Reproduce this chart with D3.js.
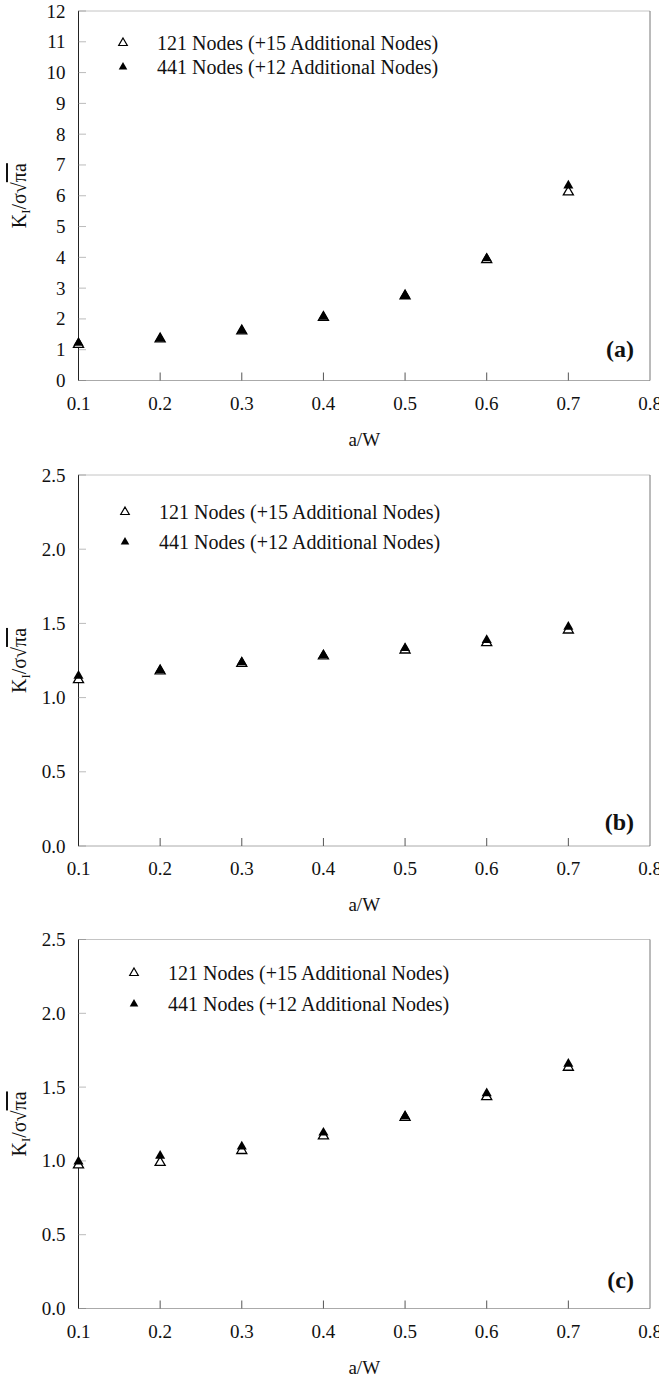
<!DOCTYPE html>
<html>
<head>
<meta charset="utf-8">
<script src="https://cdn.jsdelivr.net/npm/d3@7"></script>
<style>
  body { margin: 0; background: #fff; }
  svg { display: block; }
  svg text { font-family: "Liberation Serif", "DejaVu Serif", serif; fill: #111; }
</style>
</head>
<body>
<svg width="659" height="1376" font-family="Liberation Serif, DejaVu Serif, serif"></svg>
<script>
// crack ratio a/W, same for all three panels
var aW = [0.1, 0.2, 0.3, 0.4, 0.5, 0.6, 0.7];
var xTicks = [0.1, 0.2, 0.3, 0.4, 0.5, 0.6, 0.7, 0.8];

// panel (a)
var aNodes121 = [1.17, 1.35, 1.61, 2.05, 2.75, 3.92, 6.12];
var aNodes441 = [1.22, 1.36, 1.62, 2.07, 2.77, 3.97, 6.33];
var aYTicks = [0, 1, 2, 3, 4, 5, 6, 7, 8, 9, 10, 11, 12];

// panel (b)
var bNodes121 = [1.12, 1.18, 1.23, 1.28, 1.32, 1.37, 1.455];
var bNodes441 = [1.147, 1.185, 1.237, 1.286, 1.333, 1.387, 1.477];

// panel (c)
var cNodes121 = [0.972, 0.989, 1.07, 1.169, 1.295, 1.435, 1.634];
var cNodes441 = [0.995, 1.034, 1.097, 1.191, 1.304, 1.458, 1.657];
var bcYTicks = [0, 0.5, 1.0, 1.5, 2.0, 2.5];

var legendLabels = ["121 Nodes (+15 Additional Nodes)", "441 Nodes (+12 Additional Nodes)"];

var svg = d3.select("svg");
var left = 78.5, right = 650;

var tri = d3.symbol().type(d3.symbolTriangle).size(44);

function drawPanel(p) {
  var g = svg.append("g");
  var x = d3.scaleLinear().domain([0.1, 0.8]).range([left, right]);
  var y = d3.scaleLinear().domain([0, p.yMax]).range([p.bottom, p.top]);

  // frame: dotted top/bottom, solid right, dark left axis
  g.append("line").attr("x1", left).attr("x2", right).attr("y1", p.top).attr("y2", p.top)
    .attr("stroke", "#888").attr("stroke-dasharray", "1,1");
  g.append("line").attr("x1", right).attr("x2", right).attr("y1", p.top).attr("y2", p.bottom)
    .attr("stroke", "#777");
  g.append("line").attr("x1", left).attr("x2", right).attr("y1", p.bottom).attr("y2", p.bottom)
    .attr("stroke", "#555").attr("stroke-dasharray", "1,1");
  g.append("line").attr("x1", left).attr("x2", left).attr("y1", p.top).attr("y2", p.bottom)
    .attr("stroke", "#222");

  // y ticks (inside) + labels
  g.selectAll(".yt").data(p.yTicks).enter().append("line")
    .attr("x1", left).attr("x2", left + 7)
    .attr("y1", function(d) { return y(d); }).attr("y2", function(d) { return y(d); })
    .attr("stroke", "#777").attr("stroke-dasharray", "1,1");
  g.selectAll(".yl").data(p.yTicks).enter().append("text")
    .attr("x", left - 13).attr("y", function(d) { return y(d) + 6.5; })
    .attr("text-anchor", "end").attr("font-size", 19)
    .text(function(d) { return p.fmt(d); });

  // x ticks (inside) + labels
  g.selectAll(".xt").data(xTicks.slice(1, -1)).enter().append("line")
    .attr("x1", function(d) { return x(d); }).attr("x2", function(d) { return x(d); })
    .attr("y1", p.bottom).attr("y2", p.bottom - 8)
    .attr("stroke", "#555");
  g.selectAll(".xl").data(xTicks).enter().append("text")
    .attr("x", function(d) { return x(d); }).attr("y", p.bottom + 29)
    .attr("text-anchor", "middle").attr("font-size", 19)
    .text(function(d) { return d3.format(".1f")(d); });

  g.append("text").attr("x", (left + right) / 2).attr("y", p.bottom + 65)
    .attr("text-anchor", "middle").attr("font-size", 19).text("a/W");

  // y axis title K_I / sigma sqrt(pi a)
  var yt = g.append("text")
    .attr("transform", "translate(26," + ((p.top + p.bottom) / 2) + ") rotate(-90)")
    .attr("text-anchor", "middle").attr("font-size", 20);
  yt.append("tspan").text("K");
  yt.append("tspan").attr("font-size", 13).attr("dy", 4).text("I");
  yt.append("tspan").attr("dy", -4).text("/σ√");
  yt.append("tspan").style("text-decoration", "overline").text("πa");

  // points: open triangles beneath, filled on top
  g.selectAll(".o").data(p.s121).enter().append("path")
    .attr("d", tri)
    .attr("transform", function(d, i) { return "translate(" + x(aW[i]) + "," + y(d) + ")"; })
    .attr("fill", "#fff").attr("stroke", "#000").attr("stroke-width", 1.3);
  g.selectAll(".f").data(p.s441).enter().append("path")
    .attr("d", tri)
    .attr("transform", function(d, i) { return "translate(" + x(aW[i]) + "," + y(d) + ")"; })
    .attr("fill", "#000");

  // legend
  legendLabels.forEach(function(lab, i) {
    var ly = p.legY + i * p.legGap;
    g.append("path").attr("d", d3.symbol().type(d3.symbolTriangle).size(32))
      .attr("transform", "translate(" + p.legX + "," + ly + ")")
      .attr("fill", i == 0 ? "#fff" : "#000")
      .attr("stroke", "#000").attr("stroke-width", i == 0 ? 1.2 : 0);
    g.append("text").attr("x", p.legX + 34).attr("y", ly + 7)
      .attr("font-size", 20).text(lab);
  });

  g.append("text").attr("x", 634).attr("y", p.bottom - p.tagUp + 8)
    .attr("text-anchor", "end").attr("font-size", 24).attr("font-weight", "bold")
    .text(p.tag);
}

drawPanel({ top: 11, bottom: 380.5, yMax: 12, yTicks: aYTicks, fmt: d3.format("d"),
  s121: aNodes121, s441: aNodes441, legX: 123, legY: 43, legGap: 24, tag: "(a)", tagUp: 32 });
drawPanel({ top: 475, bottom: 846, yMax: 2.5, yTicks: bcYTicks, fmt: d3.format(".1f"),
  s121: bNodes121, s441: bNodes441, legX: 125, legY: 512, legGap: 30, tag: "(b)", tagUp: 24 });
drawPanel({ top: 939.5, bottom: 1308.5, yMax: 2.5, yTicks: bcYTicks, fmt: d3.format(".1f"),
  s121: cNodes121, s441: cNodes441, legX: 134, legY: 973, legGap: 31, tag: "(c)", tagUp: 29 });
</script>
</body>
</html>
